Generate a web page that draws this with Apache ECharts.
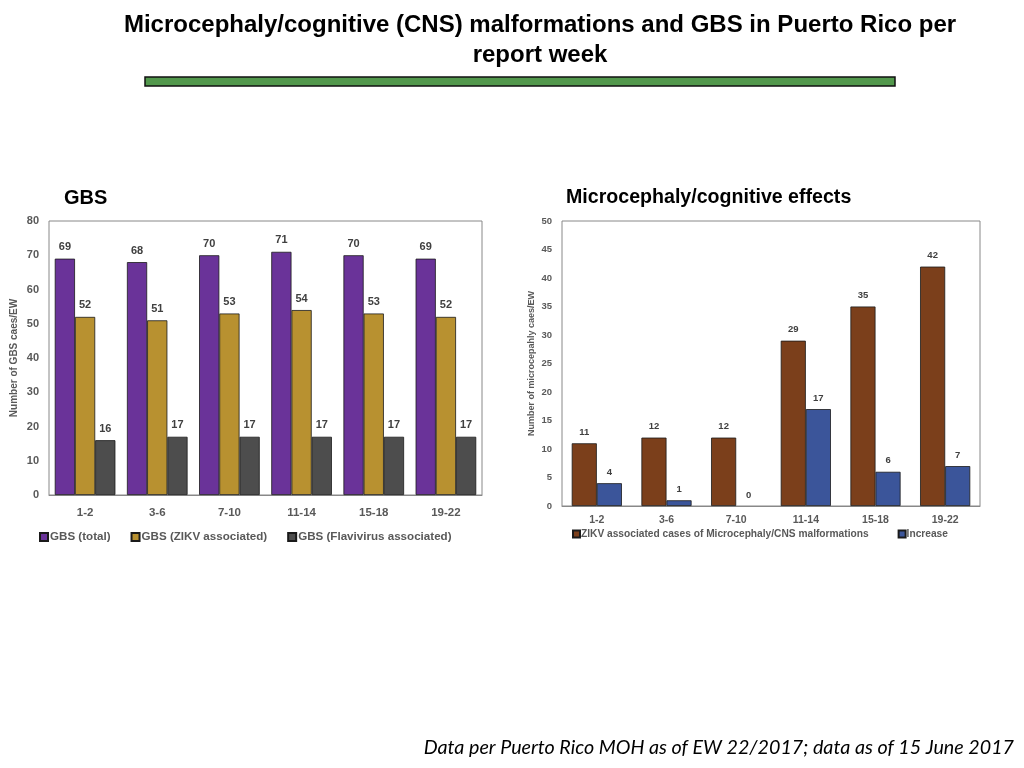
<!DOCTYPE html>
<html lang="en">
<head>
    <meta charset="UTF-8">
    <title>Microcephaly and GBS in Puerto Rico</title>
    <script src="https://cdn.jsdelivr.net/npm/echarts@6/dist/echarts.min.js"></script>
    <style>
        html, body { margin: 0; padding: 0; background: #fff; }
        #chart { width: 1024px; height: 768px; }
    </style>
</head>
<body>
    <div id="chart"></div>
    <script>
        // report week groups
        const weeks = ['1-2', '3-6', '7-10', '11-14', '15-18', '19-22'];

        // GBS panel
        const gbsTotal = [69, 68, 70, 71, 70, 69];
        const gbsZikv = [52, 51, 53, 54, 53, 52];
        const gbsFlavi = [16, 17, 17, 17, 17, 17];

        // microcephaly panel
        const microZikv = [11, 12, 12, 29, 35, 42];
        const microIncrease = [4, 1, 0, 17, 6, 7];

        const axisText = { color: '#595959', fontWeight: 'bold', fontFamily: 'Liberation Sans' };
        const valueLabel = {
            show: true, position: 'top', distance: 6,
            color: '#404040', fontWeight: 'bold', fontFamily: 'Liberation Sans', fontSize: 11
        };

        function bar(name, data, color, xi, labelSize) {
            // a zero-height bar should not leave a border line on the axis
            const items = data.map(v => v === 0 ? { value: v, itemStyle: { borderWidth: 0 } } : v);
            return {
                name: name, type: 'bar', data: items,
                xAxisIndex: xi, yAxisIndex: xi,
                barGap: '0%',
                barCategoryGap: xi === 0 ? '16%' : '28%',
                itemStyle: { color: color, borderColor: '#1a1a1a', borderWidth: 0.8 },
                label: Object.assign({}, valueLabel, { fontSize: labelSize }),
                animation: false
            };
        }

        const chart = echarts.init(document.getElementById('chart'));
        chart.setOption({
            animation: false,
            title: [
                {
                    text: 'Microcephaly/cognitive (CNS) malformations and GBS in Puerto Rico per\nreport week',
                    left: 535, top: 5, textAlign: 'center',
                    textStyle: { fontFamily: 'Liberation Sans', fontWeight: 'bold', fontSize: 24, lineHeight: 30, color: '#000' }
                },
                {
                    text: 'GBS', left: 59, top: 183,
                    textStyle: { fontFamily: 'Liberation Sans', fontWeight: 'bold', fontSize: 20, color: '#000' }
                },
                {
                    text: 'Microcephaly/cognitive effects', left: 561, top: 183,
                    textStyle: { fontFamily: 'Liberation Sans', fontWeight: 'bold', fontSize: 19.6, color: '#000' }
                },
                {
                    text: 'Data per Puerto Rico MOH as of EW 22/2017; data as of 15 June 2017',
                    right: 5, top: 733,
                    textStyle: { fontFamily: 'Lato', fontStyle: 'italic', fontWeight: 'normal', fontSize: 19.7, color: '#000' }
                }
            ],
            graphic: [{
                type: 'rect',
                shape: { x: 145, y: 77, width: 750, height: 9 },
                style: { fill: '#52984c', stroke: '#111', lineWidth: 1.5 }
            }],
            legend: [
                {
                    data: ['GBS (total)', 'GBS (ZIKV associated)', 'GBS (Flavivirus associated)'],
                    left: 39, top: 531, padding: 0, itemWidth: 8, itemHeight: 8, itemGap: 20,
                    icon: 'rect',
                    textStyle: Object.assign({}, axisText, { fontSize: 11.6, padding: [0, 0, 0, -3] })
                },
                {
                    data: ['ZIKV associated cases of Microcephaly/CNS malformations', 'Increase'],
                    left: 572, top: 529, padding: 0, itemWidth: 7, itemHeight: 7, itemGap: 29,
                    icon: 'rect',
                    textStyle: Object.assign({}, axisText, { fontSize: 10.2, padding: [0, 0, 0, -4] })
                }
            ],
            grid: [
                { left: 49, top: 221, width: 433, height: 274, show: true, borderColor: '#888', borderWidth: 1 },
                { left: 562, top: 221, width: 418, height: 285, show: true, borderColor: '#888', borderWidth: 1 }
            ],
            xAxis: [
                {
                    type: 'category', data: weeks, gridIndex: 0,
                    axisLine: { lineStyle: { color: '#888' } }, axisTick: { show: false },
                    axisLabel: Object.assign({}, axisText, { fontSize: 11.5, margin: 12 })
                },
                {
                    type: 'category', data: weeks, gridIndex: 1,
                    axisLine: { lineStyle: { color: '#888' } }, axisTick: { show: false },
                    axisLabel: Object.assign({}, axisText, { fontSize: 10.5, margin: 9 })
                }
            ],
            yAxis: [
                {
                    type: 'value', gridIndex: 0, min: 0, max: 80, interval: 10,
                    name: 'Number of GBS caes/EW', nameLocation: 'middle', nameGap: 30,
                    nameTextStyle: Object.assign({}, axisText, { fontSize: 10 }),
                    splitLine: { show: false }, axisLine: { show: false }, axisTick: { show: false },
                    axisLabel: Object.assign({}, axisText, { fontSize: 11, margin: 10 })
                },
                {
                    type: 'value', gridIndex: 1, min: 0, max: 50, interval: 5,
                    name: 'Number of microcepahly caes/EW', nameLocation: 'middle', nameGap: 26,
                    nameTextStyle: Object.assign({}, axisText, { fontSize: 9 }),
                    splitLine: { show: false }, axisLine: { show: false }, axisTick: { show: false },
                    axisLabel: Object.assign({}, axisText, { fontSize: 9.5, margin: 10 })
                }
            ],
            series: [
                bar('GBS (total)', gbsTotal, '#6a3399', 0, 11),
                bar('GBS (ZIKV associated)', gbsZikv, '#b89130', 0, 11),
                bar('GBS (Flavivirus associated)', gbsFlavi, '#4d4d4d', 0, 11),
                bar('ZIKV associated cases of Microcephaly/CNS malformations', microZikv, '#7b3f1b', 1, 9.5),
                bar('Increase', microIncrease, '#3b559a', 1, 9.5)
            ]
        });
    </script>
</body>
</html>
